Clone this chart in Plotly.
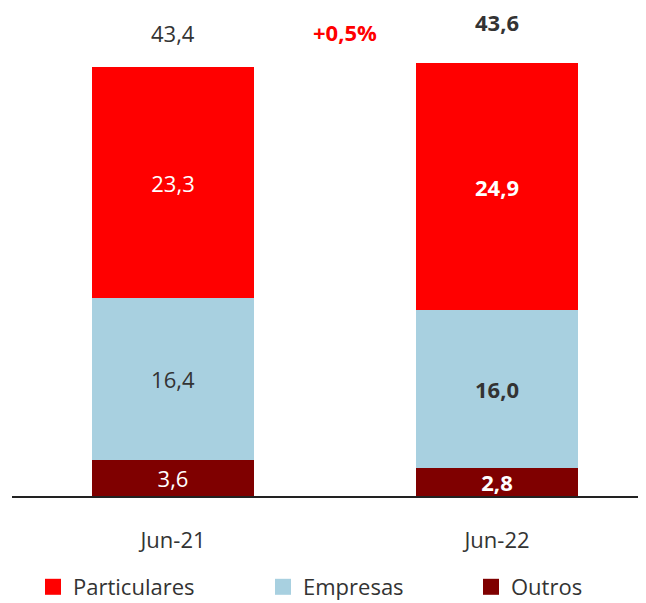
import plotly.graph_objects as go

categories = ["Jun-21", "Jun-22"]
outros = [3.6, 2.8]
empresas = [16.4, 16.0]
particulares = [23.3, 24.9]
totals = [43.4, 43.6]
variation_label = "+0,5%"

def fmt(v):
    return f"{v:.1f}".replace(".", ",")

bold = [False, True]

def labels(vals):
    return [f"<b>{fmt(v)}</b>" if b else fmt(v) for v, b in zip(vals, bold)]

RED = "#FF0000"
BLUE = "#A8D0E0"
DARK = "#7F0000"
TXT = "#333333"
FONT = "Open Sans"

W, H = 638, 595  # page has an 8px body margin inside the 646x603 window

fig = go.Figure()
series = [
    ("Outros", outros, DARK, "white"),
    ("Empresas", empresas, BLUE, TXT),
    ("Particulares", particulares, RED, "white"),
]
for name, vals, col, tcol in series:
    fig.add_trace(go.Bar(
        x=categories, y=vals, name=name, marker=dict(color=col, line=dict(width=0)),
        text=labels(vals), textposition="inside", insidetextanchor="middle",
        constraintext="none", cliponaxis=False,
        textfont=dict(color=tcol, size=22, family=FONT), width=0.5, showlegend=False,
        hoverinfo="skip",
    ))

# legend entries (larger squares), one legend box per entry
legend_ids = ["legend", "legend2", "legend3"]
legend_left_px = [25, 255, 463]
for (name, vals, col, tcol), lid in zip(reversed(series), legend_ids):
    fig.add_trace(go.Scatter(
        x=[None], y=[None], mode="markers", name=name, legend=lid,
        marker=dict(symbol="square", size=18, color=col), showlegend=True,
    ))

shifts = [16, 25]
for c, t, b, s in zip(categories, totals, bold, shifts):
    fig.add_annotation(x=c, y=t, text=(f"<b>{fmt(t)}</b>" if b else fmt(t)),
                       showarrow=False, yanchor="bottom", yshift=s,
                       font=dict(size=22, color=TXT, family=FONT))
fig.add_annotation(xref="paper", yref="paper", x=0.525, y=(476 - 12) / 476,
                   xanchor="center", yanchor="middle",
                   text=f"<b>{variation_label}</b>", showarrow=False,
                   font=dict(size=22, color=RED, family=FONT))

legend_common = dict(orientation="h", xref="container", xanchor="left",
                     y=(H - 579) / H, yref="container", yanchor="middle",
                     font=dict(size=22, color=TXT, family=FONT), itemclick=False,
                     bgcolor="rgba(0,0,0,0)")
layout_legends = {lid: dict(x=px / W, **legend_common)
                  for lid, px in zip(legend_ids, legend_left_px)}

fig.update_layout(
    barmode="stack", width=W, height=H,
    margin=dict(l=4, r=0, t=12, b=107, autoexpand=False),
    plot_bgcolor="white", paper_bgcolor="white",
    font=dict(family=FONT, size=22, color=TXT),
    bargap=0,
    **layout_legends,
)
fig.update_xaxes(range=[-0.497, 1.46], showline=True, linecolor="#222222", linewidth=1.5,
                 ticks="", showgrid=False, ticklabelstandoff=24,
                 tickfont=dict(size=22, color=TXT, family=FONT))
fig.update_yaxes(range=[0, 48.0], visible=False)
fig.write_html("out.html")
